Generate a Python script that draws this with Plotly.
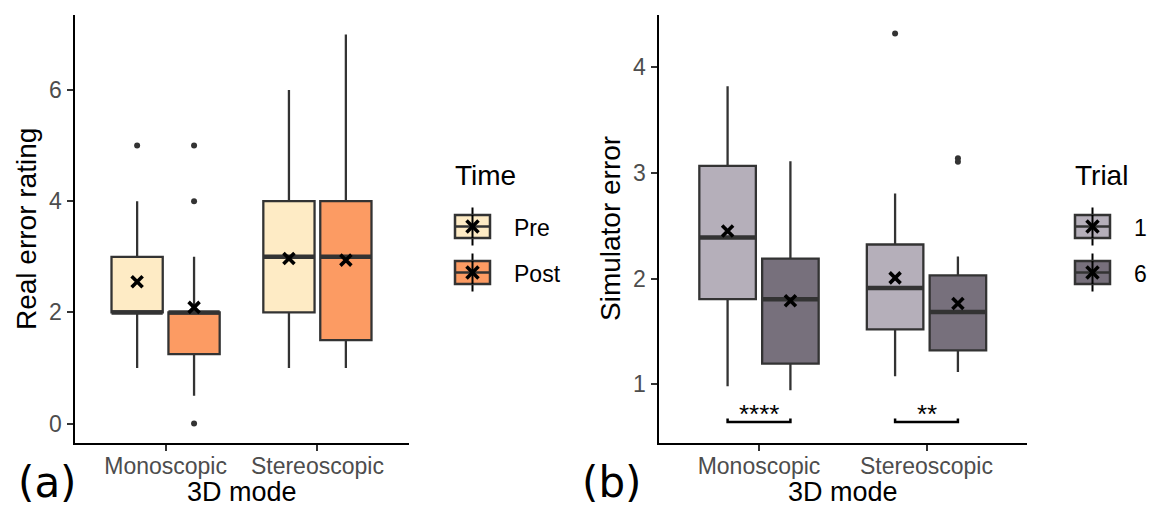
import plotly.graph_objects as go

W, H = 1152, 508

# ---------------- data ----------------
modes = ["Monoscopic", "Stereoscopic"]

# Panel (a): Real error rating by Time
time_groups = ["Pre", "Post"]
time_colors = ["#FEEBC5", "#FC9B63"]
a_q1 = [[2.0, 2.0], [1.25, 1.5]]
a_med = [[2.0, 3.0], [2.0, 3.0]]
a_q3 = [[3.0, 4.0], [2.0, 4.0]]
a_lo = [[1.0, 1.0], [0.5, 1.0]]
a_hi = [[4.0, 6.0], [3.0, 7.0]]
a_mean = [[2.55, 2.97], [2.09, 2.94]]
a_out = [[[5.0], []], [[5.0, 4.0, 0.0], []]]

# Panel (b): Simulator error by Trial
trial_groups = ["1", "6"]
trial_colors = ["#B5AFBA", "#77707C"]
b_q1 = [[1.805, 1.52], [1.196, 1.32]]
b_med = [[2.39, 1.91], [1.805, 1.685]]
b_q3 = [[3.067, 2.323], [2.19, 2.03]]
b_lo = [[0.98, 1.076], [0.943, 1.117]]
b_hi = [[3.82, 2.806], [3.11, 2.21]]
b_mean = [[2.45, 2.007], [1.79, 1.764]]
b_out = [[[], [4.32]], [[], [3.14, 3.105]]]
sig_labels = ["****", "**"]
sig_y = 0.643
sig_tip = 0.675

a_yticks = [0, 2, 4, 6]
b_yticks = [1, 2, 3, 4]

# ---------------- style ----------------
FONT = "Liberation Sans, Arial, sans-serif"
OUTLINE = "#333333"
DODGE = 0.1875
BOXW = 0.3375

fig = go.Figure()


def px_x(p):
    return p / W


def px_y(p):
    return 1 - p / H


def add_panel(xa, ya, q1, med, q3, lo, hi, mean, outl, colors):
    for g in range(2):
        pos = [i + 1 + (DODGE if g else -DODGE) for i in range(len(modes))]
        fig.add_trace(go.Box(
            x=pos, q1=q1[g], median=med[g], q3=q3[g],
            lowerfence=lo[g], upperfence=hi[g],
            width=BOXW, whiskerwidth=0,
            fillcolor=colors[g], line=dict(color=OUTLINE, width=2.3),
            xaxis=xa, yaxis=ya, showlegend=False, hoverinfo="skip",
        ))
        # thick median segments
        for i, p in enumerate(pos):
            fig.add_trace(go.Scatter(
                x=[p - BOXW / 2, p + BOXW / 2], y=[med[g][i], med[g][i]],
                mode="lines", line=dict(color=OUTLINE, width=4.5),
                xaxis=xa, yaxis=ya, showlegend=False, hoverinfo="skip",
            ))
        # outliers
        ox, oy = [], []
        for i, p in enumerate(pos):
            for v in outl[g][i]:
                ox.append(p)
                oy.append(v)
        if ox:
            fig.add_trace(go.Scatter(
                x=ox, y=oy, mode="markers",
                marker=dict(color=OUTLINE, size=6),
                xaxis=xa, yaxis=ya, showlegend=False, hoverinfo="skip",
            ))
        # means
        fig.add_trace(go.Scatter(
            x=pos, y=mean[g], mode="markers",
            marker=dict(symbol="x-thin", size=11,
                        line=dict(color="black", width=3.6)),
            xaxis=xa, yaxis=ya, showlegend=False, hoverinfo="skip",
        ))


add_panel("x", "y", a_q1, a_med, a_q3, a_lo, a_hi, a_mean, a_out, time_colors)
add_panel("x2", "y2", b_q1, b_med, b_q3, b_lo, b_hi, b_mean, b_out, trial_colors)

# significance brackets
for i, lab in enumerate(sig_labels):
    x1, x2 = i + 1 - DODGE, i + 1 + DODGE
    fig.add_trace(go.Scatter(
        x=[x1, x1, x2, x2], y=[sig_tip, sig_y, sig_y, sig_tip],
        mode="lines", line=dict(color="black", width=2.5),
        xaxis="x2", yaxis="y2", showlegend=False, hoverinfo="skip",
    ))
    fig.add_annotation(x=i + 1, y=sig_y, xref="x2", yref="y2", text=lab,
                       showarrow=False, yanchor="middle", yshift=8,
                       font=dict(family=FONT, size=26, color="black"))

axis_common = dict(
    showgrid=False, zeroline=False, showline=True, linecolor="black",
    linewidth=2, ticks="outside", ticklen=6, tickwidth=2, tickcolor=OUTLINE,
    tickfont=dict(family=FONT, size=23, color="#4D4D4D"),
)
ydom = [px_y(443), px_y(15)]
fig.update_layout(
    width=W, height=H, margin=dict(l=0, r=0, t=0, b=0),
    paper_bgcolor="white", plot_bgcolor="white", showlegend=False,
    xaxis=dict(domain=[px_x(74.5), px_x(408.5)], range=[0.4, 2.6],
               tickvals=[1, 2], ticktext=modes, anchor="y",
               ticklabelstandoff=-5, **axis_common),
    yaxis=dict(domain=ydom, range=[-0.35, 7.35], tickvals=a_yticks,
               anchor="x", **axis_common),
    xaxis2=dict(domain=[px_x(658.5), px_x(1027)], range=[0.4, 2.6],
                tickvals=[1, 2], ticktext=modes, anchor="y2",
                ticklabelstandoff=-5, **axis_common),
    yaxis2=dict(domain=ydom, range=[0.444, 4.495], tickvals=b_yticks,
                anchor="x2", **axis_common),
)

# axis titles and panel letters
def ann(text, x, y, size, angle=0, xanchor="center", family=FONT):
    fig.add_annotation(text=text, x=px_x(x), y=px_y(y), xref="paper",
                       yref="paper", showarrow=False, textangle=angle,
                       xanchor=xanchor, yanchor="middle",
                       font=dict(family=family, size=size, color="black"))


ann("Real error rating", 26, 229, 28, angle=-90)
ann("Simulator error", 610, 229, 28, angle=-90)
ann("3D mode", 241.5, 491.5, 27)
ann("3D mode", 843, 491.5, 27)
ann("(a)", 16, 482, 42, xanchor="left", family="DejaVu Sans")
ann("(b)", 580, 482, 42, xanchor="left", family="DejaVu Sans")

# custom legends
def legend(title, labels, colors, kx):
    ann(title, kx - 2, 175, 28, xanchor="left")
    for j, (lab, col) in enumerate(zip(labels, colors)):
        cy = 226.5 + 46 * j
        x0, x1 = kx, kx + 35
        cx = (x0 + x1) / 2
        ln = dict(color=OUTLINE, width=2.5)
        fig.add_shape(type="line", xref="paper", yref="paper",
                      x0=px_x(cx), x1=px_x(cx), y0=px_y(cy - 19), y1=px_y(cy + 19),
                      line=dict(color="black", width=2))
        fig.add_shape(type="rect", xref="paper", yref="paper",
                      x0=px_x(x0), x1=px_x(x1), y0=px_y(cy - 11.5), y1=px_y(cy + 11.5),
                      fillcolor=col, line=ln)
        fig.add_shape(type="line", xref="paper", yref="paper",
                      x0=px_x(cx), x1=px_x(cx), y0=px_y(cy - 11.5), y1=px_y(cy + 11.5),
                      line=dict(color="black", width=2))
        fig.add_shape(type="line", xref="paper", yref="paper",
                      x0=px_x(x0), x1=px_x(x1), y0=px_y(cy), y1=px_y(cy), line=ln)
        d = 6
        for s in (1, -1):
            fig.add_shape(type="line", xref="paper", yref="paper",
                          x0=px_x(cx - d), x1=px_x(cx + d),
                          y0=px_y(cy - s * d), y1=px_y(cy + s * d),
                          line=dict(color="black", width=3.5))
        ann(lab, kx + 57, cy + 1, 23, xanchor="left")


legend("Time", time_groups, time_colors, 455)
legend("Trial", trial_groups, trial_colors, 1075)

fig.write_html("out.html")
